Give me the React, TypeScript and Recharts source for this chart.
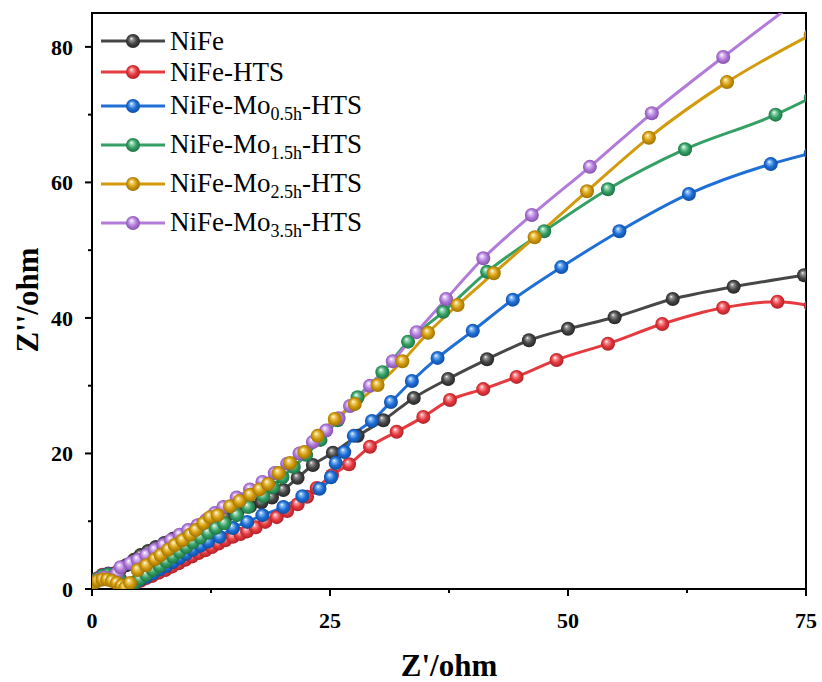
import { LineChart, Line, XAxis, YAxis, ReferenceArea } from 'recharts'

type Pt = { x: number; y: number }

// Z' / Z'' pairs (ohm)
const niFe: [number, number][] = [
  [0.2, 1.0], [0.6, 1.5], [1.1, 1.9], [1.7, 2.1], [2.3, 2.3], [2.9, 2.8], [3.6, 3.5],
  [4.4, 4.3], [5.1, 5.0], [5.9, 5.6], [6.7, 6.2], [7.6, 6.8], [8.5, 7.4], [9.5, 8.0],
  [10.5, 8.6], [11.6, 9.2], [12.8, 9.9], [14.0, 10.6], [15.3, 11.4], [16.6, 12.2],
  [17.8, 12.8], [18.9, 13.5], [20.1, 14.6], [21.6, 16.4], [23.2, 18.3], [25.3, 20.1],
  [27.9, 22.6], [30.6, 24.9], [33.8, 28.2], [37.4, 31.0], [41.5, 33.9], [45.9, 36.7],
  [50.0, 38.4], [54.9, 40.1], [61.0, 42.8], [67.4, 44.6], [74.8, 46.3],
]

const niFeHts: [number, number][] = [
  [0.2, 1.0], [0.6, 1.6], [1.1, 2.1], [1.7, 2.3], [2.3, 2.2], [2.9, 1.6], [3.4, 0.8],
  [3.9, 0.5], [4.5, 0.8], [5.1, 1.2], [5.7, 1.6], [6.3, 1.9], [7.0, 2.4], [7.7, 2.8],
  [8.4, 3.3], [9.1, 3.8], [9.8, 4.3], [10.5, 4.8], [11.2, 5.3], [11.9, 5.7], [12.6, 6.2],
  [13.3, 6.7], [14.0, 7.2], [14.8, 7.7], [15.6, 8.1], [16.3, 8.5], [17.2, 9.1],
  [18.2, 9.9], [19.4, 10.6], [20.5, 11.5], [21.6, 12.5], [22.6, 13.6], [23.6, 14.9],
  [25.2, 16.8], [27.0, 18.4], [29.2, 21.0], [32.0, 23.2], [34.8, 25.4], [37.6, 27.9],
  [41.1, 29.5], [44.6, 31.3], [48.8, 33.8], [54.2, 36.2], [59.9, 39.1], [66.3, 41.5],
  [72.0, 42.4], [75.5, 41.8],
]

const mo05: [number, number][] = [
  [0.2, 1.0], [0.6, 1.5], [1.1, 2.0], [1.7, 2.2], [2.3, 2.1], [2.9, 1.5], [3.4, 0.7],
  [3.9, 0.5], [4.5, 0.9], [5.1, 1.4], [5.7, 1.8], [6.4, 2.3], [7.1, 2.9], [7.8, 3.4],
  [8.5, 4.0], [9.2, 4.6], [9.9, 5.2], [10.6, 5.8], [11.4, 6.4], [12.2, 7.0], [13.4, 7.7],
  [14.8, 9.0], [16.3, 9.9], [17.9, 10.9], [20.1, 12.1], [22.1, 13.7], [23.9, 14.8],
  [25.1, 16.5], [25.6, 18.6], [26.5, 20.2], [27.5, 22.6], [29.4, 24.8], [31.4, 27.6],
  [33.6, 30.7], [36.3, 34.1], [40.0, 38.1], [44.2, 42.7], [49.3, 47.5], [55.4, 52.8],
  [62.7, 58.3], [71.3, 62.7], [75.5, 64.3],
]

const mo15: [number, number][] = [
  [0.2, 1.0], [0.6, 1.5], [1.1, 1.9], [1.7, 2.1], [2.3, 2.0], [2.9, 1.4], [3.4, 0.6],
  [3.9, 0.5], [4.5, 1.0], [5.0, 1.5], [5.7, 2.1], [6.4, 2.8], [7.1, 3.4], [7.8, 4.1],
  [8.5, 4.8], [9.2, 5.5], [9.9, 6.2], [10.6, 6.9], [11.4, 7.6], [12.2, 8.3], [13.0, 9.0],
  [13.9, 9.7], [15.2, 10.9], [16.4, 12.1], [18.0, 13.7], [19.0, 15.0], [20.0, 16.5],
  [21.2, 18.0], [22.5, 19.8], [24.0, 22.0], [25.8, 24.9], [27.9, 28.3], [30.5, 32.0],
  [33.2, 36.5], [36.9, 40.9], [41.5, 46.8], [47.5, 52.8], [54.2, 59.0], [62.3, 64.9],
  [71.8, 70.0], [75.5, 72.5],
]

const mo25: [number, number][] = [
  [0.2, 0.9], [0.6, 1.2], [1.1, 1.4], [1.6, 1.4], [2.1, 1.2], [2.6, 0.9], [3.1, 0.5],
  [3.5, 0.2], [4.0, 0.9], [4.8, 2.8], [5.7, 3.5], [6.6, 4.4], [7.2, 5.0], [8.0, 5.8],
  [8.7, 6.5], [9.5, 7.2], [10.3, 8.0], [10.9, 8.7], [11.7, 9.7], [12.4, 10.6],
  [13.2, 10.9], [14.5, 12.2], [15.5, 13.0], [16.6, 13.9], [17.6, 14.7], [18.5, 15.5],
  [19.6, 17.1], [20.8, 18.6], [22.3, 20.2], [23.7, 22.6], [25.5, 25.1], [27.6, 27.3],
  [30.0, 30.1], [32.6, 33.6], [35.3, 37.8], [38.4, 41.9], [42.2, 46.6], [46.5, 51.9],
  [52.0, 58.7], [58.5, 66.6], [66.7, 74.8], [75.5, 81.8],
]

const mo35: [number, number][] = [
  [0.2, 0.9], [0.7, 1.4], [1.3, 1.7], [2.0, 1.6], [2.6, 2.3], [3.0, 3.2], [4.0, 3.8],
  [4.8, 4.3], [5.7, 5.0], [6.6, 5.8], [7.5, 6.5], [8.3, 7.2], [9.2, 8.0], [10.1, 8.7],
  [11.1, 9.4], [12.0, 10.2], [12.9, 11.2], [13.8, 12.1], [15.2, 13.5], [16.6, 14.7],
  [17.9, 15.8], [19.2, 17.1], [20.5, 18.5], [21.8, 20.0], [23.2, 21.7], [24.6, 23.4],
  [25.9, 25.2], [27.1, 27.0], [29.2, 30.0], [31.6, 33.6], [34.1, 37.9], [37.2, 42.8],
  [41.1, 48.8], [46.2, 55.2], [52.3, 62.3], [58.8, 70.2], [66.3, 78.5], [73.8, 86.5],
]

const xTicks = [0, 12.5, 25, 37.5, 50, 62.5, 75]
const yTicks = [0, 10, 20, 30, 40, 50, 60, 70, 80]

const series = [
  { key: 'nife', name: 'NiFe', sub: '', tail: '', data: niFe, color: '#474747', dark: '#1e1e1e', light: '#9a9a9a' },
  { key: 'hts', name: 'NiFe-HTS', sub: '', tail: '', data: niFeHts, color: '#e53a3f', dark: '#a81c22', light: '#f8a0a3' },
  { key: 'mo05', name: 'NiFe-Mo', sub: '0.5h', tail: '-HTS', data: mo05, color: '#1e6fd6', dark: '#0b4599', light: '#8fbef5' },
  { key: 'mo15', name: 'NiFe-Mo', sub: '1.5h', tail: '-HTS', data: mo15, color: '#35a065', dark: '#1a6b3e', light: '#a2dcbc' },
  { key: 'mo35', name: 'NiFe-Mo', sub: '3.5h', tail: '-HTS', data: mo35, color: '#b27bdb', dark: '#7a4aa3', light: '#e3ccf5' },
  { key: 'mo25', name: 'NiFe-Mo', sub: '2.5h', tail: '-HTS', data: mo25, color: '#d39b0b', dark: '#946a00', light: '#f3d67c' },
]

// legend order as in the figure
const legendOrder = ['nife', 'hts', 'mo05', 'mo15', 'mo25', 'mo35']

const FONT = '"Liberation Serif", "Times New Roman", serif'

function toPts(d: [number, number][]): Pt[] {
  return d.map(([x, y]) => ({ x, y }))
}

function Ball({ cx, cy, id, r = 7 }: { cx?: number; cy?: number; id: string; r?: number }) {
  if (cx == null || cy == null) return null
  return <circle cx={cx} cy={cy} r={r} fill={`url(#ball-${id})`} />
}

const tickStyle = { fontFamily: FONT, fontWeight: 700, fontSize: 22 }

function XTick(props: any) {
  const { x, y, payload } = props
  const major = payload.value % 25 === 0
  return (
    <g>
      <line x1={x} y1={y} x2={x} y2={y + (major ? 7 : 4)} stroke="#000" strokeWidth={2} />
      {major && (
        <text x={x} y={y + 39} textAnchor="middle" style={tickStyle} fill="#000">
          {payload.value}
        </text>
      )}
    </g>
  )
}

function YTick(props: any) {
  const { x, y, payload } = props
  const major = payload.value % 20 === 0
  return (
    <g>
      <line x1={x} y1={y} x2={x - (major ? 7 : 4)} y2={y} stroke="#000" strokeWidth={2} />
      {major && (
        <text x={x - 19} y={y + 8} textAnchor="end" style={tickStyle} fill="#000">
          {payload.value}
        </text>
      )}
    </g>
  )
}

function LegendBox() {
  const tops = [28, 59, 93, 132, 171, 210]
  return (
    <div style={{ position: 'absolute', left: 100, top: 0, fontFamily: FONT, pointerEvents: 'none' }}>
      <svg width={0} height={0} style={{ position: 'absolute' }}>
        <defs>
          {series.map((s) => (
            <radialGradient key={s.key} id={`lball-${s.key}`} cx="50%" cy="50%" r="55%" fx="38%" fy="32%">
              <stop offset="0%" stopColor="#ffffff" />
              <stop offset="18%" stopColor={s.light} />
              <stop offset="55%" stopColor={s.color} />
              <stop offset="100%" stopColor={s.dark} />
            </radialGradient>
          ))}
        </defs>
      </svg>
      {legendOrder.map((k, i) => {
        const s = series.find((q) => q.key === k)!
        return (
          <div key={k} style={{ position: 'absolute', left: 0, top: tops[i], height: 26, display: 'flex', alignItems: 'center' }}>
            <svg width={66} height={18} style={{ display: 'block' }}>
              <line x1={1} y1={9} x2={65} y2={9} stroke={s.color} strokeWidth={3} />
              <circle cx={33} cy={9} r={7} fill={`url(#lball-${s.key})`} />
            </svg>
            <span style={{ marginLeft: 4, fontSize: 27, color: '#000', whiteSpace: 'nowrap', lineHeight: '26px' }}>
              {s.name}
              {s.sub && <sub style={{ fontSize: 18, verticalAlign: 'baseline', position: 'relative', top: 6 }}>{s.sub}</sub>}
              {s.tail}
            </span>
          </div>
        )
      })}
    </div>
  )
}

export default function App() {
  return (
    <div style={{ position: 'absolute', left: 0, top: 0, width: 822, height: 682, background: '#fff' }}>
      <LineChart width={822} height={682} margin={{ top: 13, right: 16, left: 0, bottom: 0 }}>
        <defs>
          {series.map((s) => (
            <radialGradient key={s.key} id={`ball-${s.key}`} cx="50%" cy="50%" r="55%" fx="38%" fy="32%">
              <stop offset="0%" stopColor="#ffffff" />
              <stop offset="18%" stopColor={s.light} />
              <stop offset="55%" stopColor={s.color} />
              <stop offset="100%" stopColor={s.dark} />
            </radialGradient>
          ))}
        </defs>
        <XAxis
          dataKey="x"
          type="number"
          domain={[0, 75]}
          ticks={xTicks}
          allowDataOverflow
          height={93}
          tickSize={0}
          tickMargin={0}
          tickLine={false}
          axisLine={{ stroke: '#000', strokeWidth: 2 }}
          tick={<XTick />}
          interval={0}
        />
        <YAxis
          dataKey="y"
          type="number"
          domain={[0, 85]}
          ticks={yTicks}
          allowDataOverflow
          width={92}
          tickSize={0}
          tickMargin={0}
          tickLine={false}
          axisLine={{ stroke: '#000', strokeWidth: 2 }}
          tick={<YTick />}
          interval={0}
        />
        <ReferenceArea x1={0} x2={75} y1={0} y2={85} fill="none" stroke="#000" strokeWidth={2} />
        {series.map((s) => (
          <Line
            key={s.key}
            data={toPts(s.data)}
            dataKey="y"
            name={s.key}
            type="monotone"
            stroke={s.color}
            strokeWidth={3}
            dot={(p: any) => <Ball key={`${s.key}-${p.index}`} cx={p.cx} cy={p.cy} id={s.key} />}
            activeDot={false}
            isAnimationActive={false}
          />
        ))}
        <text x={449} y={676} textAnchor="middle" style={{ fontFamily: FONT, fontWeight: 700, fontSize: 31 }} fill="#000">
          Z'/ohm
        </text>
        <text
          x={38}
          y={300}
          textAnchor="middle"
          transform="rotate(-90 38 300)"
          style={{ fontFamily: FONT, fontWeight: 700, fontSize: 31 }}
          fill="#000"
        >
          Z''/ohm
        </text>
      </LineChart>
      <LegendBox />
    </div>
  )
}
